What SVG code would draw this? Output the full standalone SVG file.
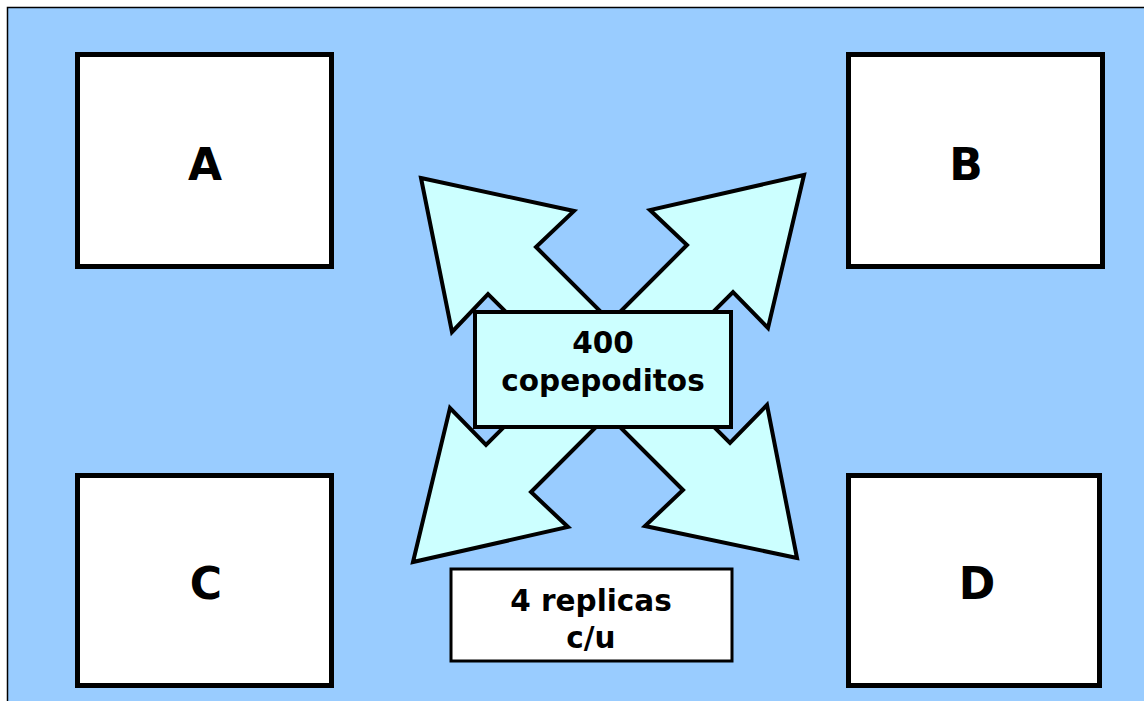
<svg xmlns="http://www.w3.org/2000/svg" width="1144" height="701" viewBox="0 0 1144 701">
<style>
.box{fill:#ffffff;stroke:#000000;stroke-width:5}
.arrow{fill:#ccffff;stroke:#000000;stroke-width:4;stroke-linejoin:miter}
.big{font-family:"DejaVu Sans",Verdana,sans-serif;font-weight:bold;font-size:44px;fill:#000;text-anchor:middle}
.lbl{font-family:"DejaVu Sans",Verdana,sans-serif;font-weight:bold;font-size:29.5px;fill:#000;text-anchor:middle}
</style>
<rect x="0" y="0" width="1144" height="701" fill="#ffffff"/>
<rect x="7.5" y="7.5" width="1150" height="700" fill="#99ccff" stroke="#000000" stroke-width="1.5"/>
<g id="node-A"><rect class="box" x="77.5" y="54.5" width="254" height="212"/><text class="big" x="205" y="180">A</text></g>
<g id="node-B"><rect class="box" x="848.5" y="54.5" width="254" height="212"/><text class="big" x="966" y="180">B</text></g>
<g id="node-C"><rect class="box" x="77.5" y="475.5" width="254" height="210"/><text class="big" x="206" y="599">C</text></g>
<g id="node-D"><rect class="box" x="848.5" y="475.5" width="251" height="210"/><text class="big" x="977" y="599">D</text></g>
<g id="connectors">
<polygon class="arrow" points="421,178 574,211 536,247 620,331 560,366 488,294 452,332"/>
<polygon class="arrow" points="804,175 768,328 733,292 653,372 597,335 687,245 650,210"/>
<polygon class="arrow" points="413,562 450,408 486,445 560,371 625,398 531,492 568,527"/>
<polygon class="arrow" points="797,558 645,526 683,490 600,407 655,368 730,443 767,405"/>
</g>
<g id="node-center"><rect x="475" y="312" width="256" height="115" fill="#ccffff" stroke="#000000" stroke-width="4"/>
<text class="lbl" x="603" y="353">400</text><text class="lbl" x="603" y="391">copepoditos</text></g>
<g id="node-replicas"><rect x="451" y="569" width="281" height="92" fill="#ffffff" stroke="#000000" stroke-width="3"/>
<text class="lbl" x="591" y="611">4 replicas</text><text class="lbl" x="591" y="648">c/u</text></g>
</svg>
